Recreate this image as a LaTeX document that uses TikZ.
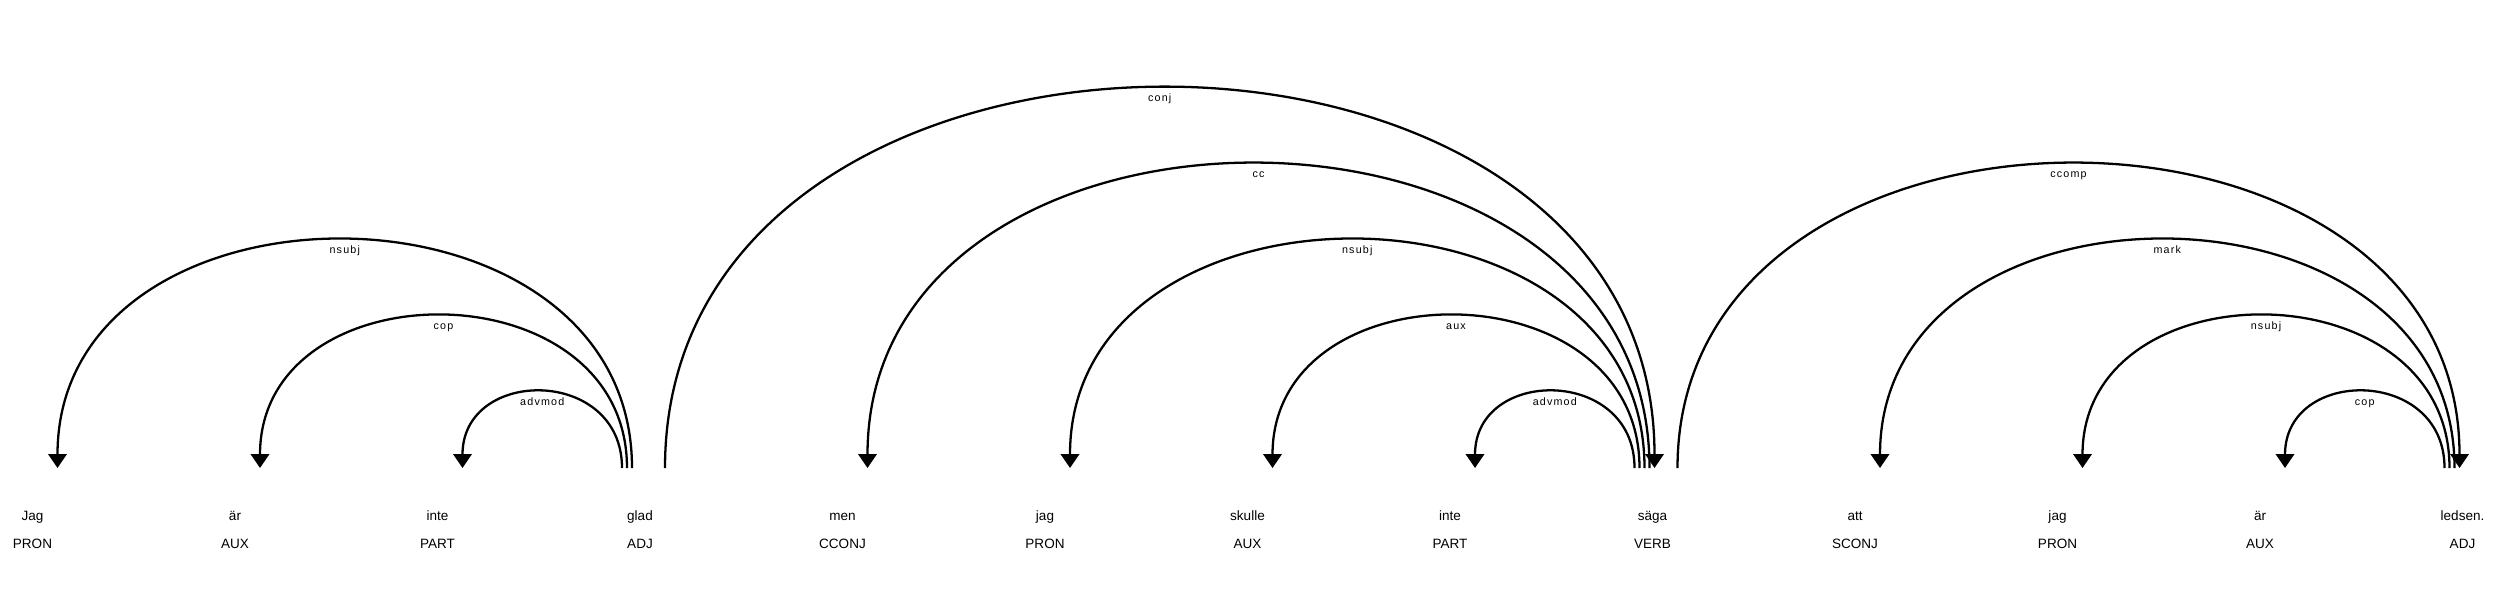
\documentclass[tikz,border=0pt]{standalone}
\usepackage{fontspec}
\setmainfont{Liberation Sans}
\newfontfamily\arclabfont[LetterSpace=11]{Liberation Sans}
\usetikzlibrary{
  arrows.meta, % for arrow tips
  calc         % for ($$)
}
\tikzstyle{wordtext} = [anchor=base, inner sep=0pt, font=\fontsize{7.7}{9}\selectfont]
\tikzstyle{postag} = [wordtext]
\tikzstyle{deplink} = [line width=1.3pt, >={Triangle[width=3.7mm,length=2.8mm]}]
\tikzstyle{arclab} = [anchor=base, inner sep=0pt, yshift=-2.7mm, font=\arclabfont\fontsize{6.1}{7}\selectfont]
% #1 left word, #2 right word, #3 level, #4 relation, #5 direction
\newcommand{\deparc}[5]{%
  \draw[deplink,#5] ($(#1.base)+(25,-52)$) .. controls +(0,-#3*101.25) and +(0,-#3*101.25) .. ($(#2.base)+({2-5*(5-#3)},-52)$) node[arclab,pos=0.5]{#4};
}

\begin{document}
\begin{tikzpicture}[x=0.2mm,y=-0.2mm]
\useasboundingbox (0,0) rectangle (2500,598);
  % words
\node[wordtext](jag1) at (32.5,520) {Jag};
\node[wordtext](ar1) at (235,520) {är};
\node[wordtext](inte1) at (437.5,520) {inte};
\node[wordtext](glad) at (640,520) {glad};
\node[wordtext](men) at (842.5,520) {men};
\node[wordtext](jag2) at (1045,520) {jag};
\node[wordtext](skulle) at (1247.5,520) {skulle};
\node[wordtext](inte2) at (1450,520) {inte};
\node[wordtext](saga) at (1652.5,520) {säga};
\node[wordtext](att) at (1855,520) {att};
\node[wordtext](jag3) at (2057.5,520) {jag};
\node[wordtext](ar2) at (2260,520) {är};
\node[wordtext](ledsen) at (2462.5,520) {ledsen.};
  % part of speech tags
\node[postag](jag1tag) at (32.5,548) {PRON};
\node[postag](ar1tag) at (235,548) {AUX};
\node[postag](inte1tag) at (437.5,548) {PART};
\node[postag](gladtag) at (640,548) {ADJ};
\node[postag](mentag) at (842.5,548) {CCONJ};
\node[postag](jag2tag) at (1045,548) {PRON};
\node[postag](skulletag) at (1247.5,548) {AUX};
\node[postag](inte2tag) at (1450,548) {PART};
\node[postag](sagatag) at (1652.5,548) {VERB};
\node[postag](atttag) at (1855,548) {SCONJ};
\node[postag](jag3tag) at (2057.5,548) {PRON};
\node[postag](ar2tag) at (2260,548) {AUX};
\node[postag](ledsentag) at (2462.5,548) {ADJ};

  % dependency arcs
\deparc{jag1}{glad}{3}{nsubj}{<-}
\deparc{ar1}{glad}{2}{cop}{<-}
\deparc{inte1}{glad}{1}{advmod}{<-}
\deparc{glad}{saga}{5}{conj}{->}
\deparc{men}{saga}{4}{cc}{<-}
\deparc{jag2}{saga}{3}{nsubj}{<-}
\deparc{skulle}{saga}{2}{aux}{<-}
\deparc{inte2}{saga}{1}{advmod}{<-}
\deparc{saga}{ledsen}{4}{ccomp}{->}
\deparc{att}{ledsen}{3}{mark}{<-}
\deparc{jag3}{ledsen}{2}{nsubj}{<-}
\deparc{ar2}{ledsen}{1}{cop}{<-}
\end{tikzpicture}
\end{document}
